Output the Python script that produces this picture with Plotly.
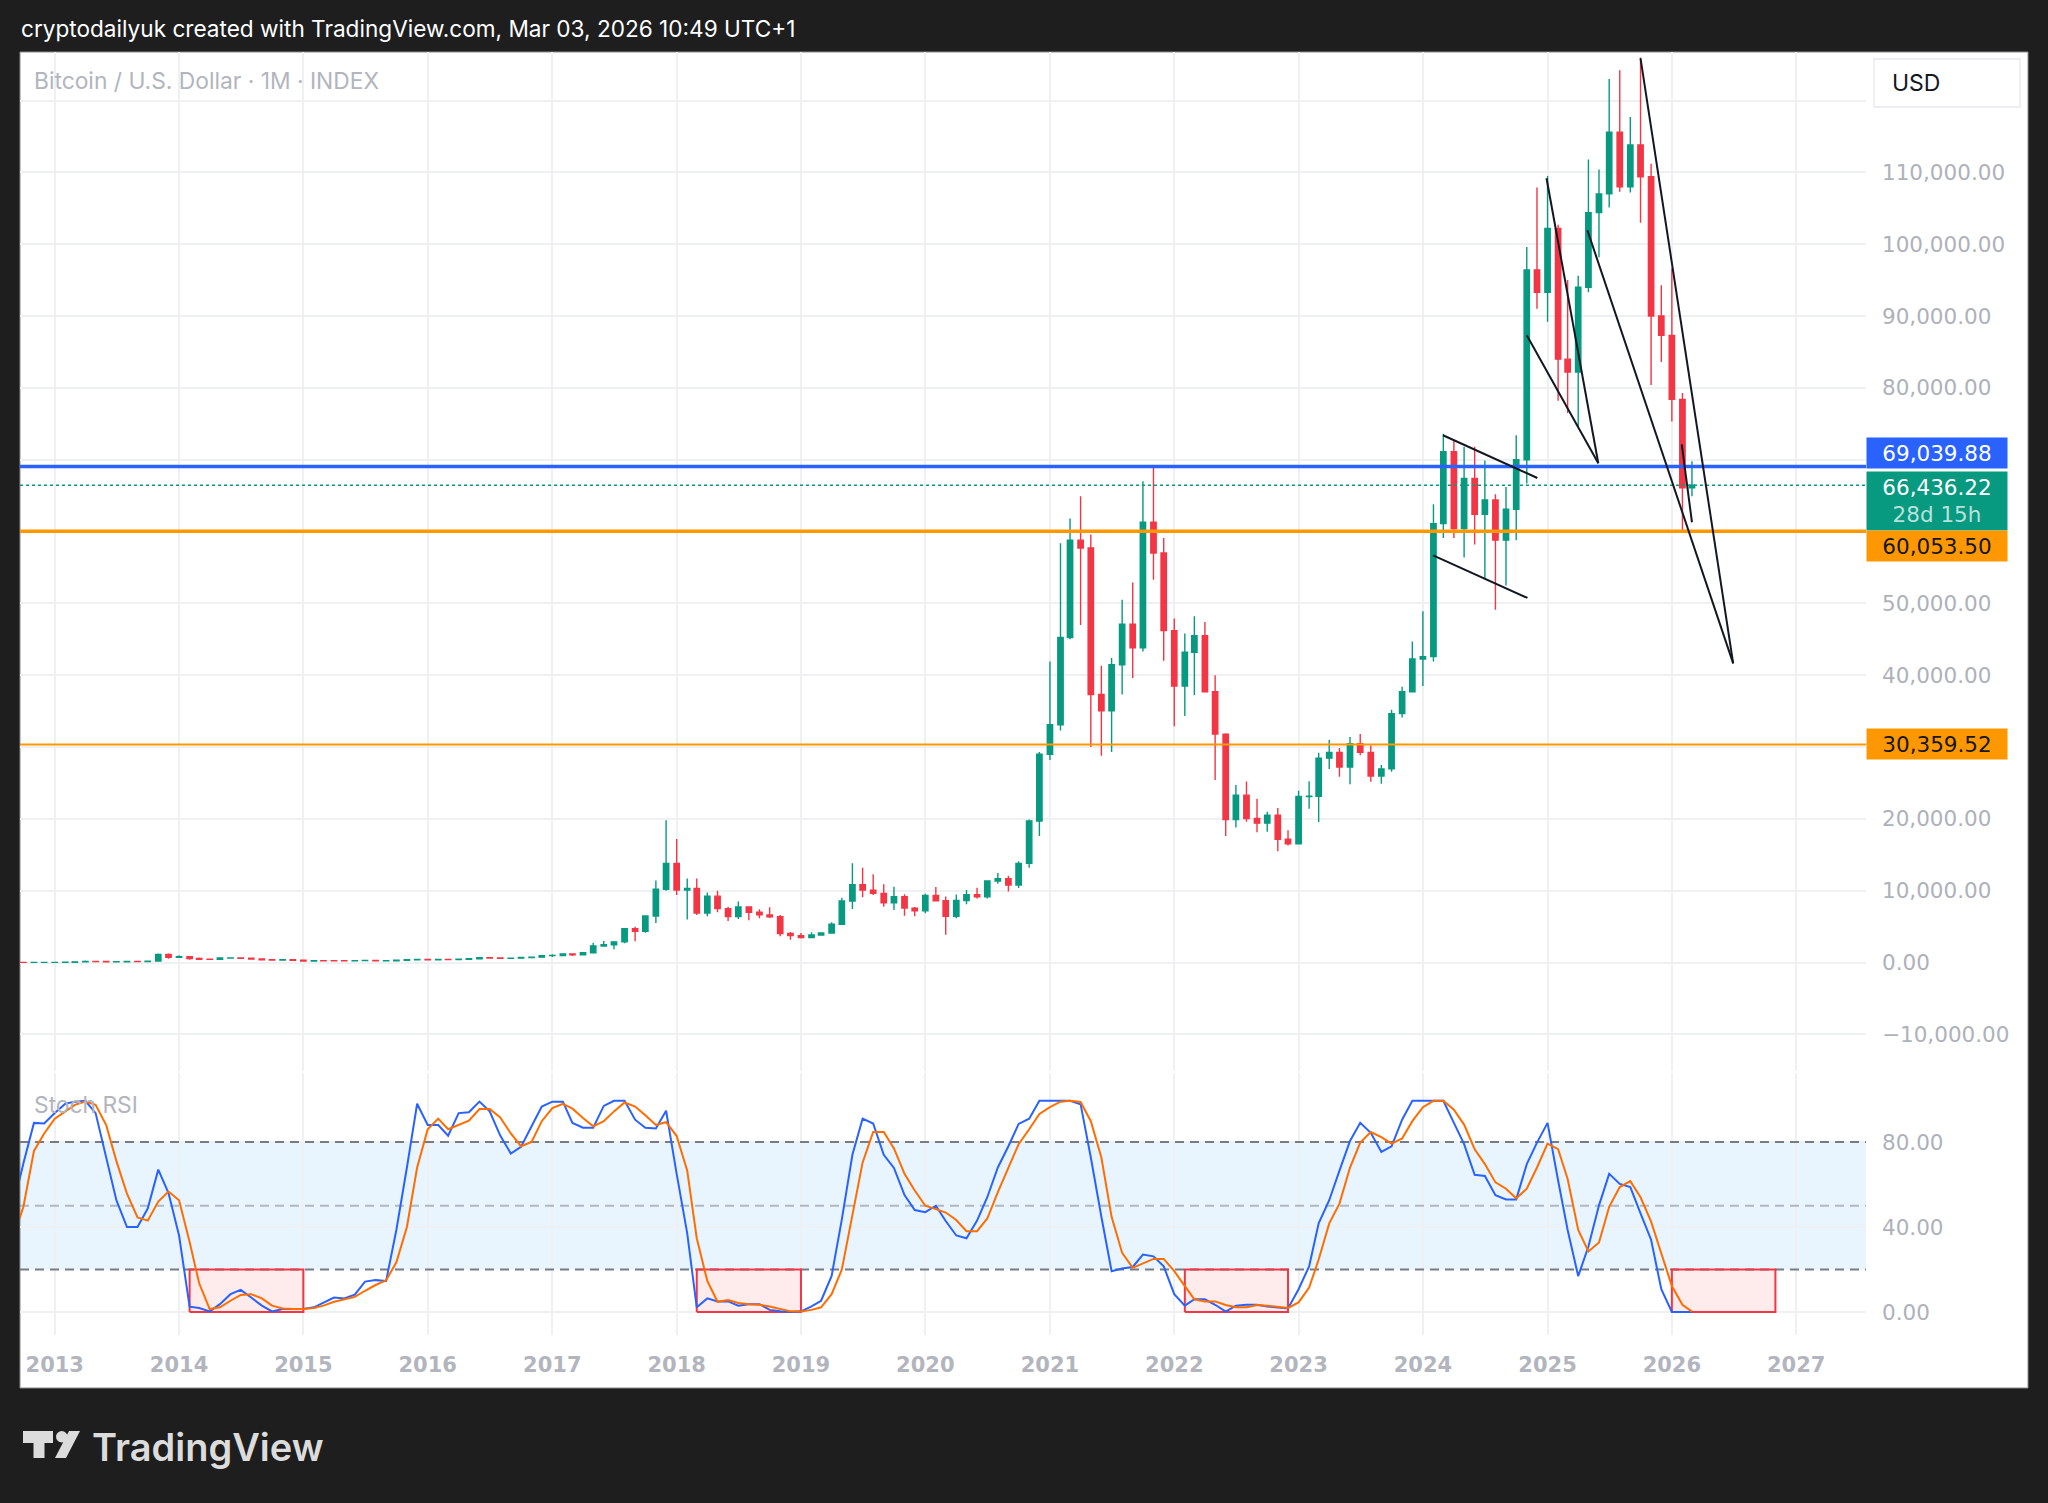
import plotly.graph_objects as go

W, H = 2048, 1503

# ---------------- DATA ----------------
# Monthly BTC/USD candles, Sep 2012 .. Mar 2026
opens = [
    10.1, 12.4, 11.2, 12.6,
    13.5, 20.4, 33.4, 93, 139, 129, 97, 106, 135, 133, 198, 1130,
    732, 800, 550, 450, 445, 630, 640, 585, 480, 387, 338, 378,
    320, 217, 254, 244, 236, 230, 263, 284, 230, 236, 314, 377,
    430, 368, 437, 416, 448, 531, 673, 624, 575, 609, 698, 742,
    963, 970, 1190, 1080, 1350, 2300, 2480, 2875, 4700, 4340, 6470, 10200,
    13800, 10100, 10300, 6900, 9240, 7500, 6400, 7730, 7000, 6630, 6370, 4040,
    3740, 3460, 3830, 4100, 5320, 8560, 10820, 10080, 9630, 8300, 9150, 7570,
    7190, 9350, 8600, 6440, 8630, 9450, 9140, 11350, 11650, 10780, 13800, 19700,
    28990, 33100, 45240, 58800, 57700, 37300, 35040, 41460, 47100, 43800, 61300, 57000,
    46200, 38500, 43200, 45500, 37700, 31800, 19900, 23300, 20050, 19400, 20500, 17150,
    16540, 23100, 23150, 28450, 29250, 27200, 30450, 29250, 25950, 26950, 34650, 37700,
    42250, 42580, 61100, 71100, 60400, 67400, 62400, 64400, 58800, 63100, 70000, 96400,
    93300, 102200, 84000, 82200, 94000, 104400, 107000, 115600, 108000, 113800, 109400, 90000,
    87300, 78400, 66100,
]
highs = [
    12.9, 12.9, 12.7, 13.9,
    20.9, 33.5, 95, 266, 140, 130, 112, 135, 145, 220, 1240, 1240,
    1020, 830, 710, 550, 630, 680, 660, 600, 495, 420, 460, 382,
    320, 267, 300, 260, 248, 268, 315, 285, 245, 335, 500, 465,
    460, 440, 440, 468, 550, 780, 705, 626, 616, 715, 755, 980,
    1150, 1200, 1290, 1350, 2760, 2980, 2920, 4750, 4980, 6470, 11400, 19800,
    17200, 11700, 11700, 9760, 10000, 7770, 8480, 7760, 7400, 7680, 6600, 4240,
    4100, 4200, 4130, 5620, 9000, 13800, 13200, 12300, 10900, 10540, 9500, 7740,
    9580, 10500, 9200, 9460, 10080, 10400, 11440, 12470, 12080, 14100, 19900, 29300,
    41900, 58350, 61800, 64900, 59600, 41300, 42400, 50500, 52900, 67000, 69000, 59100,
    47900, 45800, 48200, 47400, 40000, 31900, 24700, 25200, 22800, 21000, 21500, 18400,
    23900, 25250, 29200, 31000, 29850, 31400, 31800, 30200, 27500, 35200, 38400, 44700,
    48900, 63800, 73600, 72600, 71800, 71800, 69900, 65200, 66200, 73400, 99600, 107900,
    109500, 102700, 95000, 95600, 111800, 110400, 123000, 124200, 117700, 126000, 111200, 94300,
    96600, 79300, 69800,
]
lows = [
    10.1, 10.0, 10.5, 12.5,
    13.2, 19.7, 33.1, 50, 100, 88, 65, 100, 119, 110, 197, 520,
    730, 400, 440, 340, 420, 520, 570, 410, 365, 275, 320, 300,
    152, 210, 236, 212, 228, 221, 252, 198, 225, 236, 300, 350,
    355, 365, 396, 413, 436, 520, 600, 470, 565, 606, 690, 740,
    750, 930, 890, 1060, 1340, 2200, 1840, 2680, 2970, 4130, 5500, 10000,
    9400, 6000, 6600, 6450, 7000, 5780, 6070, 5880, 6150, 6200, 3650, 3150,
    3350, 3400, 3730, 4080, 5300, 7440, 9100, 9380, 7750, 7300, 6520, 6430,
    6850, 8500, 3850, 6150, 8100, 8900, 8900, 10950, 9870, 10370, 13200, 17600,
    28200, 32300, 45000, 47000, 30000, 28800, 29300, 37300, 39600, 43300, 53300, 42000,
    32900, 34300, 37200, 37600, 25400, 17600, 18800, 19600, 18150, 18200, 15500, 16300,
    16500, 21400, 19550, 26950, 25850, 24800, 28850, 25150, 24900, 26550, 34100, 37600,
    38500, 41900, 59100, 59100, 56400, 58200, 53500, 49100, 52500, 58800, 66700, 91000,
    89200, 78200, 76500, 74600, 93300, 98200, 105100, 107300, 107200, 103000, 80400, 83600,
    75300, 60000, 64900,
]
closes = [
    12.4, 11.2, 12.6, 13.5,
    20.4, 33.4, 93, 139, 129, 97, 106, 135, 133, 198, 1130, 732,
    800, 550, 450, 445, 630, 640, 585, 480, 387, 338, 378, 320,
    217, 254, 244, 236, 230, 263, 284, 230, 236, 314, 377, 430,
    368, 437, 416, 448, 531, 673, 624, 575, 609, 698, 742, 963,
    970, 1190, 1080, 1350, 2300, 2480, 2875, 4700, 4340, 6470, 10200, 13800,
    10100, 10300, 6900, 9240, 7500, 6400, 7730, 7000, 6630, 6370, 4040, 3740,
    3460, 3830, 4100, 5320, 8560, 10820, 10080, 9630, 8300, 9150, 7570, 7190,
    9350, 8600, 6440, 8630, 9450, 9140, 11350, 11650, 10780, 13800, 19700, 28990,
    33100, 45240, 58800, 57700, 37300, 35040, 41460, 47100, 43800, 61300, 57000, 46200,
    38500, 43200, 45500, 37700, 31800, 19900, 23300, 20050, 19400, 20500, 17150, 16540,
    23100, 23150, 28450, 29250, 27200, 30450, 29250, 25950, 26950, 34650, 37700, 42250,
    42580, 61100, 71100, 60400, 67400, 62400, 64400, 58800, 63100, 70000, 96400, 93300,
    102200, 84000, 82200, 94000, 104400, 107000, 115600, 108000, 113800, 109400, 90000, 87300,
    78400, 66100, 66436.22,
]

# Stoch RSI (K = blue, D = orange), same months
stoch_k = [
    50, 70, 89, 88.7,
    93.6, 98, 99, 99.4, 93.6, 72.7, 52.6, 40, 40, 48.7, 67, 56,
    36, 2.5, 1.9, 0.3, 3.7, 8.4, 10.4, 6.8, 3, 0.3, 1.4, 1.4,
    1.4, 2.2, 4.5, 6.8, 6.4, 8.2, 14.3, 15, 14.6, 38.6, 68, 98,
    88, 88, 83, 93.6, 94, 99, 94.4, 83, 74.6, 77.7, 87.4, 96.7,
    99, 99, 89, 86.7, 86.7, 97, 99.4, 99.4, 90.5, 86.7, 86.4, 94.7,
    65, 37, 2.2, 6.4, 5, 5, 3, 3.7, 3.7, 1, 0.3, 0,
    0.3, 2.6, 5.3, 17, 43.6, 74, 91, 88.7, 74, 67.8, 55, 48,
    47, 50, 42.8, 36, 34.7, 43, 54, 68, 78, 88.5, 91, 99.4,
    99.4, 99.4, 99.4, 97.8, 72.7, 44.8, 19.2, 20.5, 21.2, 27, 26.2, 21.5,
    8.4, 3, 6, 6, 3.4, 0.2, 3, 3.4, 3.4, 2.6, 2.2, 1.7,
    10.7, 21.5, 41.7, 52.6, 66.5, 80.5, 89, 84.3, 75.3, 78, 90.5, 99.4,
    99.4, 99.4, 99.4, 89, 79, 64.6, 64, 55, 53, 53, 69.6, 79.7,
    89, 61.9, 38.6, 16.9, 30.8, 50.2, 65, 60.3, 58.8, 46.4, 34, 10.7,
    0, 0, 0,
]
stoch_d = [
    35, 49.5, 75.8, 84,
    91, 94.4, 97.5, 99, 97.5, 88, 71, 55.7, 44.5, 43, 52, 56.7,
    52.6, 33, 13.5, 1.4, 2.2, 5.3, 8, 8.4, 6.4, 3, 1.7, 1.4,
    1.4, 1.9, 3, 4.8, 6, 7.1, 10, 12.7, 14.9, 23.4, 40, 68,
    86, 91, 86, 88, 90, 95.5, 95.5, 91.6, 84, 78, 80, 89.8,
    96, 98, 95.7, 91.3, 87.4, 89.8, 94.4, 98.6, 96.7, 92.6, 88, 89.3,
    82.8, 66.5, 34.7, 14.6, 4.8, 5.6, 4.2, 3.7, 3.4, 2.6, 1.4, 0.3,
    0.2, 1, 2.2, 8.4, 20, 44.8, 70.4, 84.7, 84.7, 77, 65, 57.2,
    50, 48.4, 46.8, 43.3, 38, 38, 44, 56.4, 68, 79, 86, 93.2,
    96.4, 99, 99.4, 98.8, 89.8, 72.7, 44.8, 27.8, 20.8, 23, 25, 25,
    19.2, 12.2, 6, 5, 5, 3.3, 2.2, 2.2, 3.3, 3, 2.5, 1.9,
    4.5, 11.5, 24.7, 41.7, 51, 68, 79.7, 84.7, 82.3, 79.2, 81.7, 89.8,
    96.4, 99.4, 99.4, 95.2, 88.2, 76.6, 69.6, 61, 58, 53.5, 58, 68,
    79.2, 76.6, 62.6, 38.6, 28.5, 32.7, 49.5, 58.8, 61.6, 54, 42.5, 27.8,
    12.2, 3.4, 0.2,
]

year_ticks = list(range(2013, 2028))
price_ticks = list(range(-10000, 130000, 10000))
hidden_price_ticks = [120000, 70000, 60000, 30000]   # covered by price tags
stoch_ticks = [0, 40, 80]
stoch_levels = [80, 50, 20]

level_blue = 69039.88
level_orange = 60053.50
level_orange_low = 30359.52
last_price = 66436.22
countdown = "28d 15h"

# drawn trend lines: (date0, price0, date1, price1)
trend_lines = [
    ("2024-02-29", 73400, "2024-12-02", 67450),
    ("2024-01-31", 56690, "2024-11-03", 50750),
    ("2024-11-01", 87320, "2025-05-30", 69500),
    ("2024-12-29", 109180, "2025-05-30", 69500),
    ("2025-04-28", 101940, "2026-06-30", 41650),
    ("2025-10-01", 125880, "2026-06-30", 41650),
    ("2026-01-30", 72140, "2026-03-01", 61290),
]
# oversold boxes in Stoch RSI pane: (date0, date1, low, high)
stoch_boxes = [
    ("2014-02-01", "2015-01-01", 0, 20),
    ("2018-03-01", "2019-01-01", 0, 20),
    ("2022-02-01", "2022-12-01", 0, 20),
    ("2026-01-01", "2026-11-01", 0, 20),
]

# month dates
dates = []
yy, mm = 2012, 9
for _ in closes:
    dates.append(f"{yy}-{mm:02d}-01")
    mm += 1
    if mm > 12:
        mm, yy = 1, yy + 1

# ---------------- LAYOUT GEOMETRY (pixels) ----------------
X_RANGE = ["2012-09-21", "2027-07-25"]
PX0, PX1 = 20, 1866
MAIN_TOP, MAIN_BOT = 52, 1071
ST_TOP, ST_BOT = 1073, 1335
ZERO_Y, PX_PER_10K = 962.5, 71.83
ST_ZERO_Y, ST_PX_PER_UNIT = 1312.0, 2.125

def px(x):
    return x / W

def py(y):
    return 1 - y / H

main_range = [(ZERO_Y - MAIN_BOT) / PX_PER_10K * 10000, (ZERO_Y - MAIN_TOP) / PX_PER_10K * 10000]
st_range = [(ST_ZERO_Y - ST_BOT) / ST_PX_PER_UNIT, (ST_ZERO_Y - ST_TOP) / ST_PX_PER_UNIT]

GREEN = "#089981"
RED = "#F23645"
GRID = "#eff0f2"
AXIS_TXT = "#aeb1ba"
FONT = "Inter"
AXFONT = "DejaVu Sans"

fig = go.Figure()

fig.add_trace(go.Candlestick(
    x=dates, open=opens, high=highs, low=lows, close=closes,
    increasing=dict(line=dict(color=GREEN, width=1.4), fillcolor=GREEN),
    decreasing=dict(line=dict(color=RED, width=1.4), fillcolor=RED),
    whiskerwidth=0, xaxis="x", yaxis="y", showlegend=False, hoverinfo="skip",
))
# stoch level lines (dashed)
for lvl in stoch_levels:
    col = "rgba(120,123,134,0.5)" if lvl == 50 else "#787b86"
    fig.add_trace(go.Scatter(x=X_RANGE, y=[lvl, lvl], mode="lines",
                             line=dict(color=col, width=2, dash="9px,6px"),
                             xaxis="x2", yaxis="y2", showlegend=False, hoverinfo="skip"))
# oversold boxes
for d0, d1, lo, hi in stoch_boxes:
    fig.add_trace(go.Scatter(x=[d0, d1, d1, d0, d0], y=[lo, lo, hi, hi, lo], mode="lines",
                             fill="toself", fillcolor="rgba(242,54,69,0.10)",
                             line=dict(color=RED, width=2), xaxis="x2", yaxis="y2",
                             showlegend=False, hoverinfo="skip"))
fig.add_trace(go.Scatter(x=dates, y=stoch_k, mode="lines", line=dict(color="#2962FF", width=2),
                         xaxis="x2", yaxis="y2", showlegend=False, hoverinfo="skip"))
fig.add_trace(go.Scatter(x=dates, y=stoch_d, mode="lines", line=dict(color="#FF6D00", width=2),
                         xaxis="x2", yaxis="y2", showlegend=False, hoverinfo="skip"))

shapes = []
# white chart canvas
shapes.append(dict(type="rect", xref="paper", yref="paper", x0=px(20), x1=px(2028), y0=py(1388), y1=py(52),
                   fillcolor="white", line=dict(color="#8a8a8a", width=1), layer="below"))
# stoch band
shapes.append(dict(type="rect", xref="x2 domain", yref="y2", x0=0, x1=1, y0=20, y1=80,
                   fillcolor="rgba(33,150,243,0.10)", line=dict(width=0), layer="below"))
# price levels
shapes.append(dict(type="line", xref="x domain", yref="y", x0=0, x1=1, y0=last_price, y1=last_price,
                   line=dict(color=GREEN, width=1.6, dash="dot")))
shapes.append(dict(type="line", xref="x domain", yref="y", x0=0, x1=1, y0=level_blue, y1=level_blue,
                   line=dict(color="#2962FF", width=3.5)))
shapes.append(dict(type="line", xref="x domain", yref="y", x0=0, x1=1, y0=level_orange, y1=level_orange,
                   line=dict(color="#FF9800", width=3.5)))
shapes.append(dict(type="line", xref="x domain", yref="y", x0=0, x1=1, y0=level_orange_low, y1=level_orange_low,
                   line=dict(color="#FF9800", width=2)))
# trend lines
for d0, p0, d1, p1 in trend_lines:
    shapes.append(dict(type="line", xref="x", yref="y", x0=d0, y0=p0, x1=d1, y1=p1,
                       line=dict(color="#131722", width=2)))
# USD box
shapes.append(dict(type="rect", xref="paper", yref="paper", x0=px(1874), x1=px(2020), y0=py(107), y1=py(59),
                   fillcolor="white", line=dict(color="#e6e8ee", width=1.3)))
# TradingView logo
LOGO = "#dcdcdc"
shapes.append(dict(type="rect", xref="paper", yref="paper", x0=px(23), x1=px(53), y0=py(1443), y1=py(1431),
                   fillcolor=LOGO, line=dict(width=0)))
shapes.append(dict(type="rect", xref="paper", yref="paper", x0=px(33.5), x1=px(44.5), y0=py(1458), y1=py(1443),
                   fillcolor=LOGO, line=dict(width=0)))
shapes.append(dict(type="circle", xref="paper", yref="paper", x0=px(56), x1=px(67.5), y0=py(1442.5), y1=py(1431),
                   fillcolor=LOGO, line=dict(width=0)))
path = "M {} {} L {} {} L {} {} L {} {} Z".format(px(69), py(1431), px(80), py(1431), px(66), py(1458), px(55), py(1458))
shapes.append(dict(type="path", xref="paper", yref="paper", path=path, fillcolor=LOGO, line=dict(width=0)))

annotations = []
tag_x = px((1867 + 2007) / 2)
def tag(y, text, bg, fg, anchor, h=30, yshift=0):
    return dict(xref="paper", yref="y", x=tag_x, y=y, xanchor="center", yanchor=anchor, yshift=yshift,
                text=text, showarrow=False, bgcolor=bg, width=140, height=h, borderpad=0, align="center",
                font=dict(family=AXFONT, size=21.5, color=fg))
annotations.append(tag(level_blue, f"{level_blue:,.2f}", "#2962FF", "white", "bottom", yshift=-2))
annotations.append(tag(level_blue, f"{last_price:,.2f}<br><span style='color:rgba(255,255,255,0.72)'>{countdown}</span>",
                       GREEN, "white", "top", h=58, yshift=-4))
annotations.append(tag(level_orange, f"{level_orange:,.2f}", "#FF9800", "#131722", "top", yshift=1))
annotations.append(tag(level_orange_low, f"{level_orange_low:,.2f}", "#FF9800", "#131722", "middle"))
annotations.append(dict(xref="paper", yref="paper", x=px(1890), y=py(83), xanchor="left", yanchor="middle",
                        text="USD", showarrow=False, font=dict(family=FONT, size=23, color="#131722")))
annotations.append(dict(xref="paper", yref="paper", x=px(32), y=py(81), xanchor="left", yanchor="middle",
                        text="Bitcoin / U.S. Dollar · 1M · INDEX", showarrow=False,
                        font=dict(family=FONT, size=22.8, color="#b2b5be")))
annotations.append(dict(xref="paper", yref="paper", x=px(32), y=py(1104), xanchor="left", yanchor="middle",
                        text="Stoch RSI", showarrow=False, font=dict(family=FONT, size=22.8, color="#b2b5be")))
annotations.append(dict(xref="paper", yref="paper", x=px(19), y=py(29), xanchor="left", yanchor="middle",
                        text="cryptodailyuk created with TradingView.com, Mar 03, 2026 10:49 UTC+1", showarrow=False,
                        font=dict(family=FONT, size=22.6, color="white")))
annotations.append(dict(xref="paper", yref="paper", x=px(90), y=py(1447), xanchor="left", yanchor="middle",
                        text="TradingView", showarrow=False,
                        font=dict(family=FONT, size=38, color=LOGO, weight=600)))

price_text = ["" if v in hidden_price_ticks else f"{v:,.2f}".replace("-", "\u2212") for v in price_ticks]
year_vals = [f"{y}-01-01" for y in year_ticks]

fig.update_layout(
    width=W, height=H, margin=dict(l=0, r=0, t=0, b=0),
    paper_bgcolor="#1e1e1e", plot_bgcolor="rgba(0,0,0,0)",
    font=dict(family=FONT),
    shapes=shapes, annotations=annotations, boxgap=0.2,
    xaxis=dict(domain=[px(PX0), px(PX1)], anchor="y", type="date",
               range=X_RANGE, tickvals=year_vals, showticklabels=False,
               showgrid=True, gridcolor=GRID, gridwidth=1.5, zeroline=False, showline=False, ticks="",
               rangeslider=dict(visible=False), fixedrange=True),
    xaxis2=dict(domain=[px(PX0), px(PX1)], anchor="y2", type="date", matches="x",
                range=X_RANGE, tickvals=year_vals, ticktext=[str(y) for y in year_ticks],
                showgrid=True, gridcolor=GRID, gridwidth=1.5, zeroline=False, showline=False, ticks="",
                tickfont=dict(family=AXFONT, size=21, color="#b2b5be", weight="bold"), ticklabelstandoff=15),
    yaxis=dict(domain=[py(MAIN_BOT), py(MAIN_TOP)], anchor="x", side="right", range=main_range,
               tickvals=price_ticks, ticktext=price_text, showgrid=True, gridcolor=GRID, gridwidth=1.5,
               zeroline=False, showline=False, ticks="", ticklabelstandoff=15,
               tickfont=dict(family=AXFONT, size=21.5, color=AXIS_TXT)),
    yaxis2=dict(domain=[py(ST_BOT), py(ST_TOP)], anchor="x2", side="right", range=st_range,
                tickvals=stoch_ticks, ticktext=[f"{v:.2f}" for v in stoch_ticks], showgrid=True,
                gridcolor=GRID, gridwidth=1.5, zeroline=False, showline=False, ticks="", ticklabelstandoff=15,
                tickfont=dict(family=AXFONT, size=21.5, color=AXIS_TXT)),
)

fig.write_html("out.html", config={"displayModeBar": False},
               post_script="document.body.style.margin='0';document.body.style.overflow='hidden';")
